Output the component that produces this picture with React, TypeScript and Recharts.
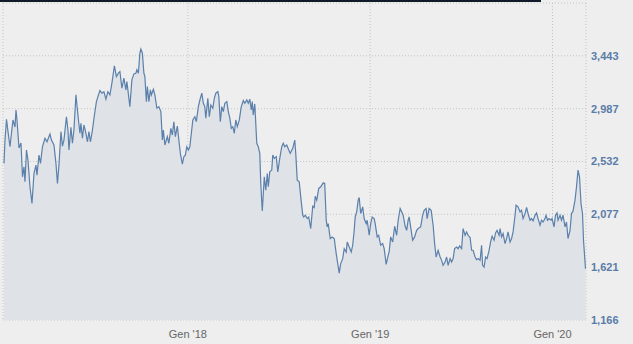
import { AreaChart, Area, XAxis, YAxis, CartesianGrid } from 'recharts'

// days since 1 Jan 2017
const days = [
  -3, -1, 2, 5, 9, 12, 15, 19, 21, 23, 27, 31, 34, 37, 39, 42, 45, 49, 53, 57,
  61, 63, 67, 70, 74, 79, 83, 89, 92, 97, 101, 104, 107, 111, 114, 117, 122, 125, 127, 131,
  134, 137, 141, 143, 146, 149, 151, 154, 157, 161, 164, 167, 170, 174, 178, 182, 185, 189, 193, 197,
  201, 205, 209, 213, 218, 222, 226, 229, 233, 237, 241, 243, 249, 253, 257, 261, 263, 266, 269, 271,
  274, 277, 279, 282, 284, 287, 290, 292, 296, 299, 303, 307, 311, 314, 316, 319, 322, 324, 327, 331,
  334, 337, 340, 344, 347, 350, 354, 357, 360, 363, 366, 369, 372, 375, 379, 382, 386, 390, 393, 396,
  399, 401, 405, 408, 411, 415, 418, 421, 425, 427, 430, 433, 436, 439, 443, 446, 449, 452, 455, 458,
  461, 464, 468, 472, 476, 479, 483, 486, 489, 492, 494, 496, 499, 503, 506, 509, 511, 514, 518, 521,
  524, 526, 529, 533, 535, 538, 542, 545, 549, 553, 556, 559, 563, 567, 570, 575, 579, 581, 584, 588,
  591, 595, 597, 600, 604, 607, 611, 615, 618, 620, 623, 627, 631, 636, 639, 642, 644, 646, 650, 654,
  658, 662, 665, 668, 671, 675, 678, 682, 684, 688, 692, 695, 698, 700, 703, 706, 708, 711, 715, 718,
  722, 724, 728, 731, 734, 738, 740, 744, 747, 751, 755, 758, 762, 766, 768, 771, 775, 779, 783, 786,
  790, 793, 796, 800, 803, 806, 808, 811, 815, 819, 823, 826, 831, 835, 838, 842, 844, 848, 852, 856,
  859, 862, 866, 870, 873, 876, 880, 883, 886, 890, 893, 896, 899, 903, 906, 909, 913, 916, 920, 923,
  926, 930, 933, 936, 940, 943, 946, 950, 953, 955, 958, 961, 964, 968, 971, 974, 978, 981, 984, 988,
  990, 993, 996, 1000, 1003, 1006, 1010, 1013, 1016, 1020, 1022, 1026, 1030, 1033, 1036, 1040, 1043, 1046, 1050, 1053,
  1056, 1060, 1063, 1066, 1070, 1073, 1076, 1080, 1082, 1085, 1088, 1092, 1094, 1098, 1101, 1104, 1106, 1110, 1113, 1116,
  1120, 1123, 1126, 1130, 1133, 1136, 1140, 1143, 1146, 1149, 1152, 1155, 1157, 1161,
]

const prices = [
  2516, 2717, 2896, 2789, 2659, 2778, 2890, 2829, 2976, 2890, 2648, 2691, 2400, 2486, 2357, 2631, 2544, 2314, 2170, 2429,
  2501, 2415, 2587, 2516, 2659, 2732, 2702, 2769, 2717, 2674, 2516, 2343, 2501, 2789, 2665, 2717, 2918, 2803, 2631, 2827,
  2689, 2803, 3106, 3019, 2890, 2775, 2861, 2732, 2847, 2775, 2702, 2789, 2702, 2803, 2933, 3048, 3091, 3143, 3121, 3134,
  3069, 3134, 3106, 3207, 3357, 3264, 3293, 3307, 3164, 3250, 3149, 3221, 3005, 3236, 3287, 3293, 3322, 3293, 3466, 3501,
  3466, 3293, 3264, 3048, 3178, 3048, 3149, 3106, 3155, 3106, 2991, 3005, 2962, 2717, 2803, 2674, 2717, 2746, 2689, 2818,
  2760, 2875, 2746, 2838, 2717, 2602, 2510, 2573, 2587, 2659, 2631, 2659, 2775, 2890, 2918, 2875, 3005, 3077, 3121, 3034,
  3005, 2905, 3077, 2918, 3019, 2991, 3077, 3121, 3134, 3091, 2875, 3005, 2962, 3034, 3048, 2962, 2905, 2818, 2832, 2775,
  2890, 2832, 2890, 3005, 3057, 3034, 3063, 3034, 3069, 2976, 3048, 2933, 3028, 2689, 2659, 2602, 2343, 2106, 2400, 2285,
  2429, 2314, 2443, 2458, 2587, 2559, 2573, 2443, 2559, 2659, 2689, 2659, 2674, 2631, 2602, 2645, 2717, 2602, 2371, 2357,
  2227, 2069, 2054, 2069, 2040, 2054, 1954, 2147, 2136, 2233, 2199, 2300, 2314, 2348, 2343, 2026, 1968, 1997, 1868, 1882,
  1868, 1738, 1652, 1570, 1652, 1695, 1781, 1752, 1838, 1795, 1752, 1810, 1939, 2054, 2098, 2199, 2222, 2084, 2141, 2040,
  1997, 2026, 1896, 1997, 2054, 2040, 1997, 1882, 1896, 1810, 1824, 1781, 1646, 1723, 1752, 1882, 1838, 1974, 1896, 2026,
  2127, 2098, 2069, 1974, 1939, 2026, 2054, 1968, 1853, 1882, 1939, 1954, 1968, 2069, 2112, 2127, 2040, 2127, 2112, 1983,
  1824, 1709, 1767, 1709, 1680, 1637, 1665, 1709, 1637, 1695, 1665, 1695, 1781, 1795, 1781, 1804, 1781, 1954, 1896, 1925,
  1896, 1876, 1767, 1767, 1709, 1686, 1695, 1680, 1810, 1637, 1622, 1709, 1695, 1767, 1838, 1888, 1853, 1916, 1939, 1896,
  1954, 1882, 1911, 1824, 1868, 1925, 1838, 1868, 1925, 2069, 2155, 2141, 2098, 2112, 2040, 2084, 2136, 2084, 2026, 2040,
  2020, 2069, 2089, 2040, 1983, 2026, 2011, 2040, 2069, 2026, 2040, 2026, 2040, 1968, 2069, 2089, 2026, 2069, 2026, 2069,
  1968, 2011, 1868, 1939, 2084, 2104, 2199, 2314, 2458, 2400, 2170, 2084, 1853, 1608,
]

const yTicks = [1166, 1621, 2077, 2532, 2987, 3443]
const xTicks = [-5, 365, 730, 1095]
const xLabels = ['', "Gen '18", "Gen '19", "Gen '20"]

const data = days.map((d, i) => ({ day: d, price: prices[i] }))

export default function App() {
  return (
    <div style={{ position: 'relative', width: 633, height: 344, background: '#eeeeee', overflow: 'hidden' }}>
      <style>{'body { margin: 0; }'}</style>
      <div style={{ position: 'absolute', left: 0, top: 0, width: 541, height: 2, background: '#101a2b', zIndex: 2 }} />
      <AreaChart width={633} height={344} data={data} margin={{ top: 3, right: 0, bottom: 0, left: 3 }}>
        <CartesianGrid stroke="#c4c4c4" strokeDasharray="1 2" />
        <XAxis
          dataKey="day"
          type="number"
          domain={[-5, 1162]}
          ticks={xTicks}
          interval={0}
          tickFormatter={(v) => xLabels[xTicks.indexOf(v)] ?? ''}
          axisLine={false}
          tickLine={false}
          tickSize={6}
          tickMargin={4}
          height={24}
          tick={{ fontSize: 11, fill: '#666666', fontFamily: 'Liberation Sans, Arial, sans-serif' }}
        />
        <YAxis
          orientation="right"
          type="number"
          domain={[1166, 3898]}
          ticks={yTicks}
          interval={0}
          tickFormatter={(v) => v.toLocaleString('en-US')}
          axisLine={false}
          tickLine={false}
          tickSize={3}
          tickMargin={2}
          width={47}
          tick={{ fontSize: 11, fontWeight: 'bold', fill: '#5a7ca8', fontFamily: 'Liberation Sans, Arial, sans-serif' }}
        />
        <Area
          type="linear"
          dataKey="price"
          stroke="#5b80ab"
          strokeWidth={1.2}
          fill="#dfe2e7"
          fillOpacity={1}
          dot={false}
          activeDot={false}
          isAnimationActive={false}
        />
      </AreaChart>
    </div>
  )
}
